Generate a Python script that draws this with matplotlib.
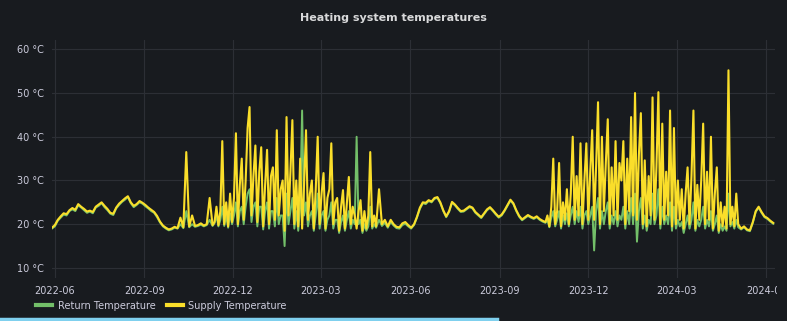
import matplotlib
matplotlib.use("Agg")
import matplotlib.pyplot as plt
import matplotlib.dates as mdates
from matplotlib.lines import Line2D
from matplotlib.transforms import Bbox, TransformedBbox
import pandas as pd

# readings: every 3 days in summer, every 2 days in the heating seasons
# summer / autumn 2022, from 2022-05-29, 3-day step
ret_summer22 = [
    19.0, 19.5, 20.8, 21.5, 22.2, 22.0, 23.0, 23.4, 23.0, 24.3,
    23.8, 23.2, 22.6, 22.9, 22.5, 23.8, 24.2, 24.8, 23.9, 23.2,
    22.4, 22.1, 23.6, 24.4, 25.1, 25.6, 26.2, 24.8, 23.9, 24.4,
    25.0, 24.7, 24.1, 23.6, 23.0, 22.6, 21.6, 20.4, 19.5,
    19.0, 18.6, 18.8, 19.2, 19.0, 20.0, 19.1, 23.0, 19.3, 20.0,
    19.4, 19.6, 19.9, 19.5, 19.8, 21.0, 19.6,
]
sup_summer22 = [
    19.2, 19.8, 21.0, 21.8, 22.5, 22.3, 23.2, 23.7, 23.3, 24.6,
    24.0, 23.5, 22.9, 23.1, 22.8, 24.0, 24.5, 25.0, 24.2, 23.5,
    22.6, 22.4, 23.8, 24.7, 25.3, 25.9, 26.4, 25.0, 24.2, 24.6,
    25.3, 24.9, 24.4, 23.8, 23.3, 22.8, 21.9, 20.6, 19.7,
    19.2, 18.8, 19.0, 19.4, 19.1, 21.5, 19.3, 36.5, 19.5, 22.0,
    19.6, 19.8, 20.2, 19.7, 20.0, 26.0, 19.8,
]

# winter 2022-23, from 2022-11-12, 2-day step
ret_winter22 = [
    20.2, 22.0, 19.5, 21.0, 24.0, 19.6, 22.0, 19.2, 22.5, 20.0,
    22.0, 25.0, 19.5, 23.0, 24.0, 20.0, 24.0, 27.0, 28.0, 20.5,
    24.0, 25.0, 19.5, 24.0, 24.0, 18.8, 23.0, 25.0, 19.0, 23.0,
    23.0, 19.5, 26.0, 20.0, 22.0, 22.0, 15.0, 27.0, 20.0, 23.0,
    26.0, 19.0, 23.0, 18.5, 24.0, 46.0, 22.0, 25.0, 19.5, 22.0,
    23.0, 18.5, 22.0, 27.0, 19.0, 22.0, 23.0, 18.5, 21.0, 22.0,
    25.0, 19.0, 21.0, 21.0, 18.0, 20.5, 22.0, 18.5, 21.0, 23.0,
    19.0, 21.0, 20.0, 40.0, 20.0, 21.0, 18.0, 20.0, 18.5, 19.5,
    24.0, 19.0, 20.0,
]
sup_winter22 = [
    20.5, 24.0, 19.8, 23.0, 39.0, 20.0, 25.0, 19.5, 27.0, 20.5,
    26.0, 40.8, 20.0, 29.0, 35.0, 21.0, 30.0, 42.0, 46.8, 22.0,
    31.0, 38.0, 20.5, 32.0, 37.6, 19.5, 29.0, 37.0, 20.0, 31.0,
    33.0, 21.0, 41.5, 22.0, 28.0, 30.0, 18.5, 44.5, 22.0, 32.0,
    43.8, 20.0, 30.0, 19.5, 35.0, 19.0, 29.0, 41.5, 21.0, 27.0,
    30.0, 19.0, 28.0, 40.0, 20.0, 27.0, 31.7, 19.0, 26.0, 28.0,
    38.5, 20.0, 25.0, 26.0, 18.5, 24.0, 27.8, 19.0, 25.0, 30.8,
    20.0, 24.0, 22.0, 19.0, 23.0, 25.5, 18.5, 23.0, 19.0, 22.0,
    36.5, 19.5, 22.0,
]

# spring / summer 2023, from 2023-04-27, 3-day step
ret_summer23 = [
    19.2, 21.0, 19.6, 20.3, 19.2, 20.5, 19.7, 19.1, 19.0, 19.8,
    20.1, 19.5, 19.0, 19.8,
    21.5, 23.5, 24.8, 24.6, 25.3, 25.0, 25.8, 26.0, 24.8, 23.0,
    21.6, 22.8, 24.9, 24.3, 23.5, 22.8, 22.9, 23.4, 23.9, 23.6,
    22.6, 22.0, 21.4, 22.3, 23.2, 23.7, 23.0, 22.2, 21.5, 22.0,
    23.0, 24.2, 25.4, 24.6, 23.0, 21.7, 20.9, 21.4, 21.9, 21.5,
    21.2, 21.6, 21.0, 20.6,
]
sup_summer23 = [
    19.5, 28.0, 20.0, 21.0, 19.5, 21.0, 20.0, 19.4, 19.3, 20.2,
    20.5, 19.8, 19.2, 20.0,
    21.7, 23.8, 25.0, 24.9, 25.5, 25.2, 26.0, 26.2, 25.0, 23.2,
    21.8, 23.0, 25.1, 24.5, 23.7, 23.0, 23.1, 23.6, 24.1, 23.8,
    22.8, 22.2, 21.6, 22.5, 23.4, 23.9, 23.2, 22.4, 21.7, 22.2,
    23.2, 24.4, 25.6, 24.8, 23.2, 21.9, 21.1, 21.6, 22.1, 21.7,
    21.4, 21.8, 21.2, 20.8,
]

# winter 2023-24, from 2023-10-18, 2-day step
ret_winter23 = [
    20.3, 21.0, 19.3, 21.5, 23.0, 19.5, 21.0, 23.0, 19.0, 22.0,
    20.0, 22.5, 19.5, 22.0, 24.0, 20.0, 23.0, 20.5, 24.0, 19.0,
    22.0, 23.0, 20.0, 22.0, 24.0, 14.0, 23.0, 26.0, 19.0, 23.0,
    20.0, 23.0, 25.0, 19.0, 22.0, 20.0, 23.0, 19.5, 22.0, 21.0,
    24.0, 19.0, 23.0, 20.0, 26.0, 20.0, 27.0, 16.0, 23.0, 26.0,
    19.0, 22.0, 18.5, 21.0, 20.0, 27.0, 20.0, 22.0, 28.0, 19.0,
    24.0, 20.0, 22.0, 20.0, 25.0, 18.5, 24.0, 19.0, 21.0, 19.5,
    20.5, 18.0, 20.0, 22.0, 19.0, 21.0, 25.0, 18.5, 21.0, 19.5,
    21.0, 24.0, 19.0, 21.0, 19.5, 23.0, 18.5, 20.0, 22.0, 18.0,
    20.0, 18.5, 19.5, 18.5, 27.0, 19.5, 20.5, 19.0, 21.0, 19.3,
]
sup_winter23 = [
    20.5, 22.0, 19.5, 24.0, 35.0, 20.0, 23.0, 34.0, 19.5, 25.0,
    21.0, 28.0, 20.0, 27.0, 40.0, 21.0, 31.0, 22.0, 38.5, 20.0,
    30.0, 38.5, 21.0, 32.0, 41.5, 21.0, 33.0, 47.9, 20.0, 40.0,
    23.0, 34.0, 44.0, 20.0, 33.0, 22.0, 39.0, 21.0, 34.0, 30.0,
    39.0, 20.0, 35.0, 23.0, 44.5, 22.0, 50.0, 21.0, 36.0, 45.4,
    20.0, 34.6, 19.5, 31.0, 22.0, 49.0, 21.0, 33.0, 50.2, 20.0,
    43.0, 21.0, 32.0, 22.0, 46.0, 19.5, 42.0, 20.0, 30.0, 21.0,
    28.0, 19.0, 27.0, 33.0, 20.0, 31.0, 46.0, 19.0, 29.0, 21.0,
    30.0, 43.0, 20.0, 32.0, 21.0, 40.0, 19.0, 27.0, 33.0, 18.5,
    25.0, 19.5, 24.0, 19.0, 55.2, 20.0, 24.0, 19.5, 27.0, 20.0,
]

# spring 2024, from 2024-05-06, 3-day step
ret_spring24 = [18.8, 19.3, 18.6, 18.4, 20.3, 22.8, 23.8, 22.6, 21.6, 21.2, 20.6, 20.1]
sup_spring24 = [19.0, 19.5, 18.8, 18.6, 20.5, 23.0, 24.0, 22.8, 21.8, 21.4, 20.8, 20.3]

segments = [
    ("2022-05-29", "3D", ret_summer22, sup_summer22),
    ("2022-11-12", "2D", ret_winter22, sup_winter22),
    ("2023-04-27", "3D", ret_summer23, sup_summer23),
    ("2023-10-18", "2D", ret_winter23, sup_winter23),
    ("2024-05-06", "3D", ret_spring24, sup_spring24),
]

dates, return_temp, supply_temp = [], [], []
for start, step, ret, sup in segments:
    assert len(ret) == len(sup)
    dates += list(pd.date_range(start, periods=len(ret), freq=step))
    return_temp += ret
    supply_temp += sup

bg = "#181b1f"
text_col = "#ccccdc"
grid_col = "#2c2f35"

fig = plt.figure(figsize=(7.87, 3.21), dpi=100, facecolor=bg)
ax = fig.add_axes([0.066, 0.134, 0.919, 0.741], facecolor=bg)

ax.plot(dates, return_temp, color="#73BF69", lw=1.4, label="Return Temperature")
ax.plot(dates, supply_temp, color="#FADE2A", lw=1.5, label="Supply Temperature")

ax.set_xlim(pd.Timestamp("2022-05-29"), pd.Timestamp("2024-06-10"))
ax.set_ylim(7.7, 62.1)
ax.set_yticks([10, 20, 30, 40, 50, 60])
ax.set_yticklabels([f"{v} °C" for v in [10, 20, 30, 40, 50, 60]])
ax.xaxis.set_major_locator(mdates.MonthLocator(bymonth=[3, 6, 9, 12]))
ax.xaxis.set_major_formatter(mdates.DateFormatter("%Y-%m"))

ax.tick_params(colors=text_col, labelsize=7, length=0, pad=6)
ax.grid(True, color=grid_col, lw=0.8)
for s in ax.spines.values():
    s.set_visible(False)

fig.text(0.5, 0.944, "Heating system temperatures", color="#d8d9da",
         fontsize=8, fontweight="bold", ha="center", va="center")

fig.legend(loc="lower left", bbox_to_anchor=(0.035, 0.005), ncol=2, frameon=False,
           fontsize=7, labelcolor=text_col, handlelength=1.6, handletextpad=0.6,
           columnspacing=1.2)
for h in fig.legends[0].get_lines():
    h.set_linewidth(3)

# the panel edge cuts off the last date label
fig.canvas.draw()
clip = TransformedBbox(Bbox([[0, 0], [0.987, 1]]), fig.transFigure)
for lab in ax.get_xticklabels():
    lab.set_clip_box(clip)
    lab.set_clip_on(True)

# screenshot artefact: blue underline at the bottom edge
fig.add_artist(Line2D([0, 0.632], [0.005, 0.005], color="#7fd0ee", lw=2.5))

fig.savefig("out.png", dpi=100, facecolor=bg)
